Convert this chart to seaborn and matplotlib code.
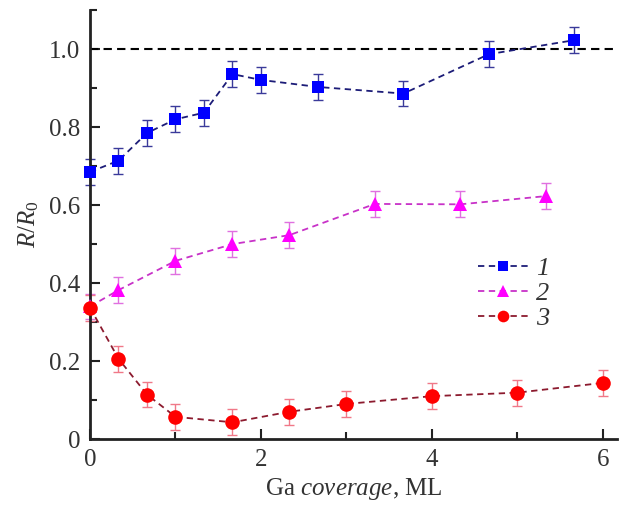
import numpy as np
import pandas as pd
import matplotlib.pyplot as plt
import seaborn as sns
from matplotlib.ticker import MultipleLocator, FuncFormatter

plt.switch_backend('Agg')
sns.set_theme(style="ticks")
plt.rcParams['font.family'] = ['Liberation Serif', 'DejaVu Serif']
plt.rcParams['mathtext.fontset'] = 'custom'
plt.rcParams['mathtext.rm'] = 'Liberation Serif'
plt.rcParams['mathtext.it'] = 'Liberation Serif:italic'

# data
x1 = [0, 0.333, 0.667, 1.0, 1.333, 1.667, 2.0, 2.667, 3.667, 4.667, 5.667]
y1 = [0.685, 0.714, 0.785, 0.820, 0.837, 0.936, 0.921, 0.903, 0.886, 0.987, 1.023]
e1 = [0.033] * len(x1)

x2 = [0, 0.333, 1.0, 1.667, 2.333, 3.333, 4.333, 5.333]
y2 = [0.340, 0.382, 0.457, 0.500, 0.523, 0.603, 0.602, 0.623]
e2 = [0.033] * len(x2)

x3 = [0, 0.333, 0.667, 1.0, 1.667, 2.333, 3.0, 4.0, 5.0, 6.0]
y3 = [0.337, 0.206, 0.114, 0.057, 0.043, 0.070, 0.090, 0.110, 0.119, 0.144]
e3 = [0.033] * len(x3)

series = [
    # x, y, err, label, marker, size, line colour, marker colour, errbar colour
    (x1, y1, e1, '1', 's', 9, '#1c1c78', '#0000ff', '#3a3a9a'),
    (x2, y2, e2, '2', '^', 10, '#c832c8', '#ff00ff', '#e070e0'),
    (x3, y3, e3, '3', 'o', 10.5, '#8c1a2e', '#ff0000', '#f07888'),
]

fig = plt.figure(figsize=(6.21, 5.07), dpi=100)
ax = fig.add_axes([0.145, 0.134, 0.849, 0.846])

ax.axhline(1.0, color='black', lw=1.5, ls=(0, (4, 2.5)), zorder=1)

for x, y, e, lab, mk, ms, lc, mc, ec in series:
    ax.errorbar(x, y, yerr=e, fmt='none', ecolor=ec, elinewidth=1.0,
                capsize=3.5, capthick=1.0, zorder=2, clip_on=False)
    df = pd.DataFrame({'x': x, 'y': y})
    sns.lineplot(data=df, x='x', y='y', ax=ax, color=lc, lw=1.3,
                 linestyle=(0, (3.5, 2.5)), marker=mk, markersize=ms,
                 markerfacecolor=mc, markeredgecolor=mc, markeredgewidth=0,
                 label=lab, zorder=3, clip_on=False)

ax.set_xlim(0, 6.17)
ax.set_ylim(0, 1.1)
ax.xaxis.set_major_locator(MultipleLocator(2))
ax.xaxis.set_minor_locator(MultipleLocator(1))
ax.yaxis.set_major_locator(MultipleLocator(0.2))
ax.yaxis.set_minor_locator(MultipleLocator(0.1))
ax.yaxis.set_major_formatter(FuncFormatter(lambda v, p: '0' if abs(v) < 1e-9 else f'{v:.1f}'))

ax.tick_params(which='both', direction='in', width=1.5, color='#222222',
               labelsize=18, labelcolor='#333333')
ax.tick_params(which='major', length=7, pad=7)
ax.tick_params(which='minor', length=5)

sns.despine(ax=ax)
for s in ['left', 'bottom']:
    ax.spines[s].set_linewidth(2)
    ax.spines[s].set_color('#222222')

ax.set_xlabel('Ga $\\mathit{coverage}$, ML', fontsize=18, color='#333333', labelpad=4)
ax.set_ylabel('$R/R_0$', fontsize=18, color='#333333', labelpad=6)

leg = ax.legend(loc='upper left', bbox_to_anchor=(0.735, 0.425), frameon=False,
                fontsize=19, handlelength=1.9, handletextpad=0.3, markerscale=0.8,
                labelspacing=0.05, borderaxespad=0, borderpad=0)
for t in leg.get_texts():
    t.set_fontstyle('italic')
    t.set_color('#333333')

plt.savefig('out.png', dpi=100)
